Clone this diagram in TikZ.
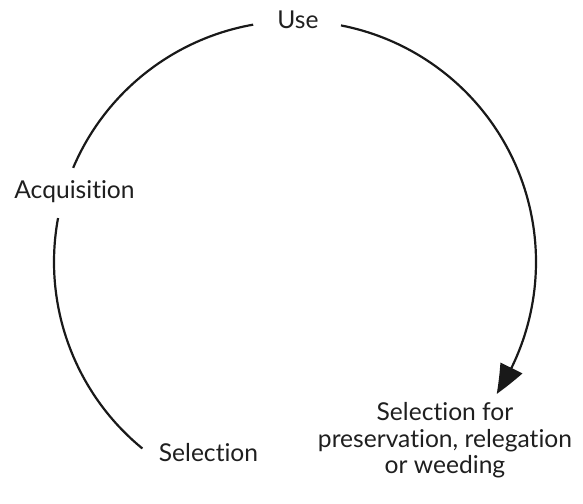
\documentclass[tikz,border=0pt]{standalone}
\usepackage{fontspec}
\setmainfont{Lato}[Ligatures=NoCommon]
\usetikzlibrary{arrows.meta,bending}
\begin{document}
\begin{tikzpicture}[x=0.5pt,y=0.5pt,
  cycle/.style={line width=1.1pt,black!90},
  lbl/.style={inner sep=0pt,font=\fontsize{12.3}{13.3}\selectfont,text=black!88}]
\useasboundingbox (0,0) rectangle (583,503);
\coordinate (c) at (295,241);
% stage labels
\node[lbl,anchor=base] (use) at (298,474) {Use};
\node[lbl,anchor=base] (acq) at (74.5,304) {Acquisition};
\node[lbl,anchor=base] (sel) at (208.5,41) {Selection};
\node[lbl,anchor=north,align=center] (pres) at (445,101)
  {Selection for\\preservation, relegation\\or weeding};
% the cycle, broken where the labels sit
\draw[cycle] (c) ++(100:241) arc[start angle=100,end angle=157,radius=241];
\draw[cycle] (c) ++(169.5:241) arc[start angle=169.5,end angle=230.7,radius=241];
\draw[cycle,-{Triangle[length=15pt,width=12pt,bend]}]
  (c) ++(79:241) arc[start angle=79,end angle=-33.2,radius=241];
\end{tikzpicture}
\end{document}
